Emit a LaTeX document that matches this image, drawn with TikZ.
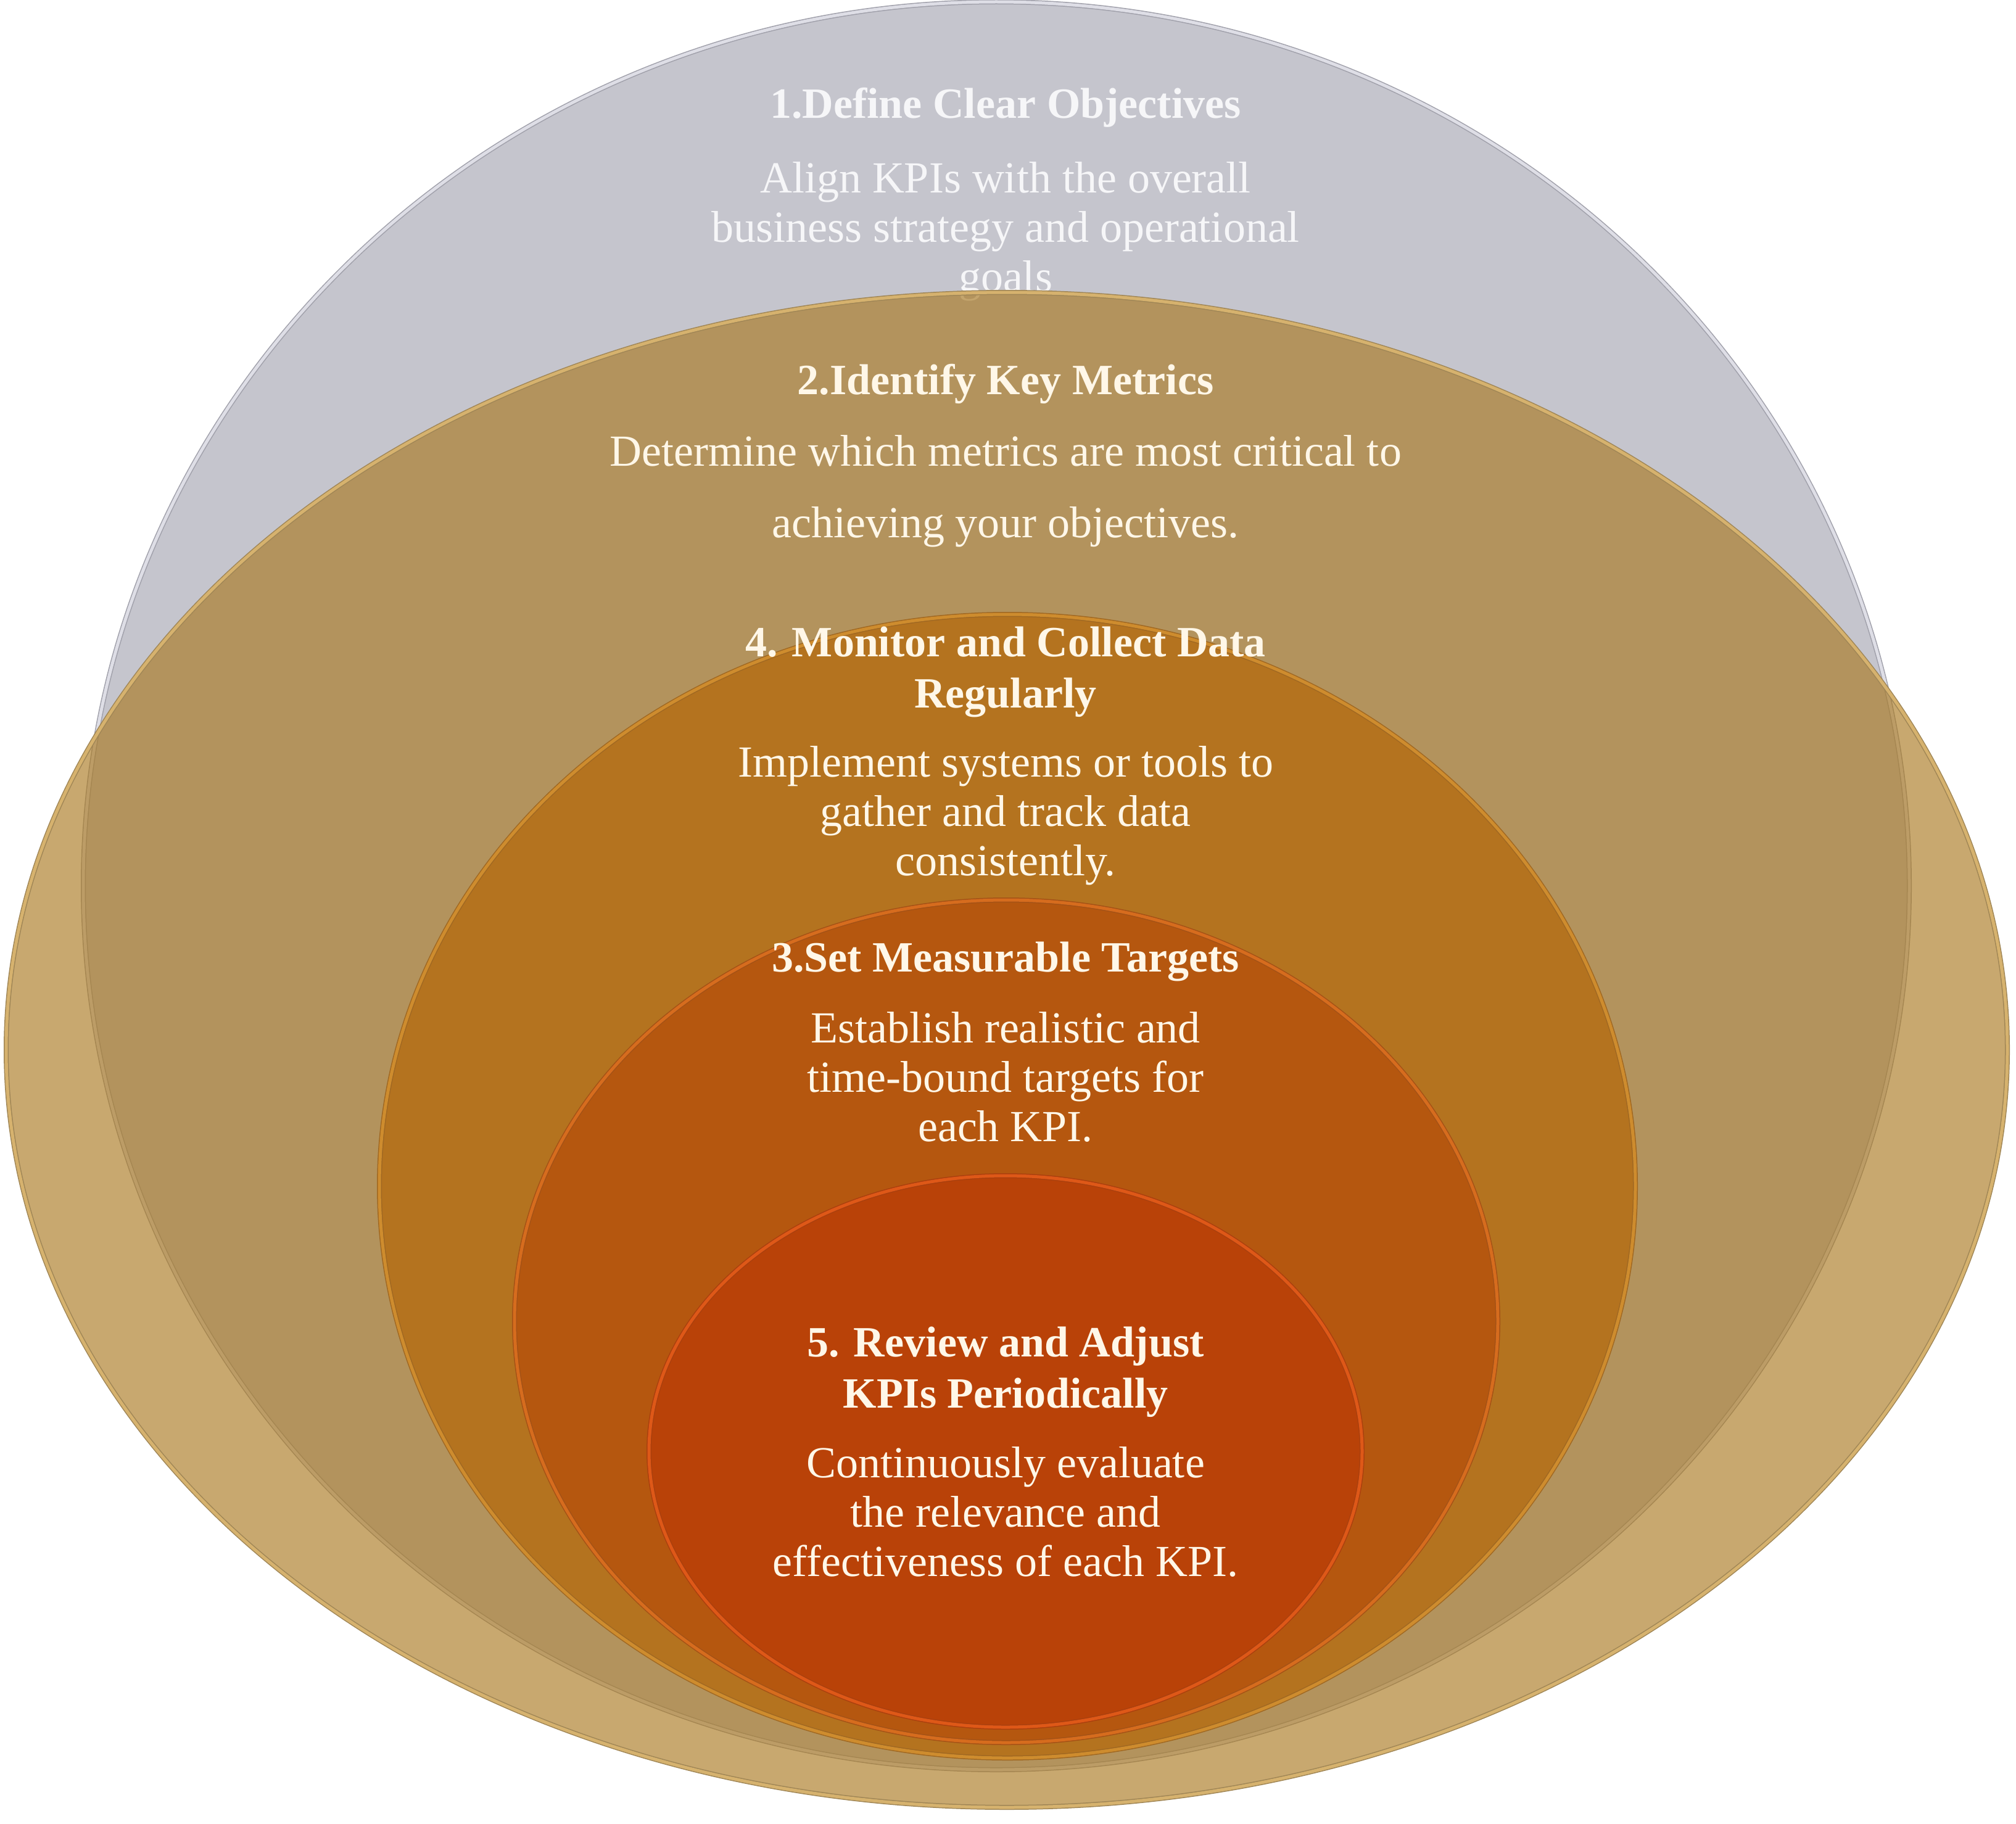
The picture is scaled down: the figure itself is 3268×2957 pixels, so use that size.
\documentclass[tikz,border=0pt]{standalone}
\usepackage{fontspec}
\setmainfont{Liberation Serif}
\usetikzlibrary{shapes.geometric}
\definecolor{grayf}{RGB}{197,197,205}
\definecolor{grayd}{RGB}{160,160,170}
\definecolor{grayr}{RGB}{222,222,230}
\definecolor{tanf}{RGB}{169,120,31}
\definecolor{tand}{RGB}{160,134,86}
\definecolor{tanr}{RGB}{214,178,110}
\definecolor{orf}{RGB}{180,115,31}
\definecolor{ord}{RGB}{160,104,34}
\definecolor{orr}{RGB}{206,140,46}
\definecolor{drf}{RGB}{181,87,15}
\definecolor{drd}{RGB}{164,82,22}
\definecolor{drr}{RGB}{214,108,30}
\definecolor{rdf}{RGB}{185,66,8}
\definecolor{rdd}{RGB}{170,64,14}
\definecolor{rdr}{RGB}{222,88,24}
\definecolor{txtc}{RGB}{255,247,232}
\definecolor{gtxt}{RGB}{246,246,248}
\begin{document}
\begin{tikzpicture}[x=1pt,y=-1pt,
  ring/.style={ellipse, inner sep=0pt, outer sep=0pt, line width=1.5pt, double distance=5pt},
  ttl/.style={text=txtc, align=center, font=\bfseries\fontsize{70}{83}\selectfont},
  body/.style={text=txtc, align=center, font=\fontsize{72}{80}\selectfont}]
\useasboundingbox (0,0) rectangle (3268,2957);
\path[fill=white] (0,0) rectangle (3268,2957);

% 1 gray
\node[ring, fill=grayf, draw=grayd, double=grayr, minimum width=2960pt, minimum height=2866pt] (e1) at (1615,1436) {};
\node[ttl, text=gtxt] (t1) at (1630,174) {1.Define Clear Objectives};
\node[body, text=gtxt] (b1) at (1630,375) {Align KPIs with the overall\\business strategy and operational\\goals};

% 2 tan
\node[ring, fill=tanf, fill opacity=0.64, draw=tand, double=tanr, minimum width=3244pt, minimum height=2456pt] (e2) at (1632,1702) {};
\node[ttl] (t2) at (1630,622) {2.Identify Key Metrics};
\node[body, font=\fontsize{72}{116}\selectfont] (b2) at (1630,796) {Determine which metrics are most critical to\\achieving your objectives.};

% 4 orange
\node[ring, fill=orf, draw=ord, double=orr, minimum width=2036pt, minimum height=1854pt] (e4) at (1633,1923) {};
\node[ttl] (t4) at (1630,1089) {4. Monitor and Collect Data\\Regularly};
\node[body] (b4) at (1630,1322) {Implement systems or tools to\\gather and track data\\consistently.};

% 3 dark orange
\node[ring, fill=drf, draw=drd, double=drr, minimum width=1594pt, minimum height=1366pt] (e3) at (1631,2142) {};
\node[ttl] (t3) at (1630,1559) {3.Set Measurable Targets};
\node[body] (b3) at (1630,1746) {Establish realistic and\\time-bound targets for\\each KPI.};

% 5 red
\node[ring, fill=rdf, draw=rdd, double=rdr, minimum width=1156pt, minimum height=894pt] (e5) at (1630,2353) {};
\node[ttl] (t5) at (1630,2224) {5. Review and Adjust\\KPIs Periodically};
\node[body] (b5) at (1630,2451) {Continuously evaluate\\the relevance and\\effectiveness of each KPI.};
\end{tikzpicture}
\end{document}
